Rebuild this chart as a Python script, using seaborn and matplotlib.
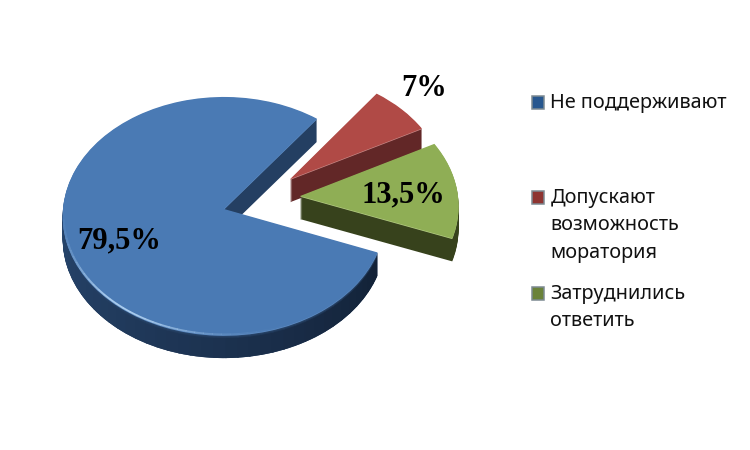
import matplotlib
matplotlib.use("Agg")
import matplotlib.pyplot as plt
import numpy as np
from matplotlib.patches import Patch, Wedge
from matplotlib.transforms import Affine2D, Transform
from matplotlib.colors import to_rgb
import seaborn as sns

categories = ["Не поддерживают", "Допускают\nвозможность\nморатория", "Затруднились\nответить"]
values = [79.5, 7.0, 13.5]
value_labels = ["79,5%", "7%", "13,5%"]

top_colors = ["#4a7ab4", "#b04a46", "#8fae55"]
side_colors = ["#243f62", "#622727", "#37421c"]
bevel_colors = ["#5f8dc4", "#c98a88", "#b5cc85"]
marker_colors = ["#27578f", "#8e3431", "#6a823a"]

sns.set_theme(style="white")
plt.rcParams["font.family"] = ["Noto Sans", "DejaVu Sans"]

W, H = 750, 450
START = -21
RADII = [161, 157, 159]
EXPLODE_AT = [(0, 0), (67, 41), (76.5, 17.7)]
DEPTH = 23


class Perspective(Transform):
    """Tilted-disc projection: world px -> screen px (y up)."""
    input_dims = output_dims = 2
    is_affine = False
    has_inverse = False
    cx, cy, squash, p = 224, H - 209, 0.737, 0.059 / 161

    def transform_non_affine(self, xy):
        xy = np.asarray(xy, dtype=float)
        w = 1 + self.p * xy[:, 1]
        return np.column_stack([self.cx + xy[:, 0] / w,
                                self.cy + self.squash * xy[:, 1] / w])


fig = plt.figure(figsize=(W / 100, H / 100), dpi=100)
ax = fig.add_axes([0, 0, 1, 1])
persp = Perspective()


def placed(depth):
    return persp + Affine2D().translate(0, -depth) + ax.transData


def layer(depth, colors, z):
    wedges, _ = ax.pie(values, colors=colors, startangle=START, counterclock=False)
    for w, c, r in zip(wedges, EXPLODE_AT, RADII):
        w.set_center(c)
        w.set_radius(r)
        w.set_linewidth(0)
        w.set_transform(placed(depth))
        w.set_zorder(z)
    return wedges


def mix(a, b, t):
    a, b = np.array(to_rgb(a)), np.array(to_rgb(b))
    return tuple(a + (b - a) * t)


# extruded sides
for k in range(DEPTH, 0, -1):
    layer(k, side_colors, 1 + (DEPTH - k) * 0.01)

# blue rim shading: lighter at the left, near-black at the lower right
rim_left, rim_mid, rim_right = "#27466e", "#1c3250", "#101d30"
for a in np.arange(START, -181, -4):
    t = float(np.clip(-a / 180, 0, 1))
    base = mix(rim_right, rim_mid, t * 2) if t < 0.5 else mix(rim_mid, rim_left, t * 2 - 1)
    for k in range(DEPTH, 0, -1):
        soft = 0.8 * (1 - t) * max(0, (4 - k) / 4)
        col = mix(base, top_colors[0], soft)
        ax.add_patch(Wedge((0, 0), RADII[0], a - 4.6, a, color=col, lw=0,
                           transform=placed(k), zorder=2 + (DEPTH - k) * 0.01))

layer(0.7, bevel_colors, 3)
layer(0, top_colors, 3.1)

# bright bevel highlight along the lower-left edge of the big slice
for a in np.arange(185, 290, 3):
    s = np.exp(-((a - 232) / 28) ** 2)
    ax.add_patch(Wedge((0, 0), RADII[0], a, a + 3.2, width=2.0,
                       facecolor="#b5d6f5", alpha=float(0.9 * s), lw=0,
                       transform=placed(0), zorder=3.2))

ax.set_aspect("auto")
ax.set_xlim(0, W)
ax.set_ylim(0, H)
ax.axis("off")

label_pos = [(119, 241), (424, 88.5), (403, 195)]
for txt, (x, y) in zip(value_labels, label_pos):
    ax.text(x, H - y, txt, ha="center", va="center", family="Liberation Serif",
            fontweight="bold", fontsize=22, color="black", zorder=5)

leg_y = [107, 202, 298]
for i, (lab, y) in enumerate(zip(categories, leg_y)):
    h = Patch(facecolor=marker_colors[i], edgecolor="#7d8a92", linewidth=1.1, label=lab)
    leg = fig.legend(handles=[h], loc="upper left",
                     bbox_to_anchor=(532 / W, 1 - (y - 14) / H), frameon=False,
                     fontsize=14.3, handlelength=0.62, handleheight=0.62,
                     handletextpad=0.3, borderpad=0, borderaxespad=0)
    for t in leg.get_texts():
        t.set_color("#111111")
        t.set_linespacing(1.5)
    row = leg._legend_handle_box.get_children()[0].get_children()[0]
    row.align = "top"
    p = leg.get_patches()[0]
    p.set_y(p.get_y() - 2.2)

fig.savefig("out.png", dpi=100)
